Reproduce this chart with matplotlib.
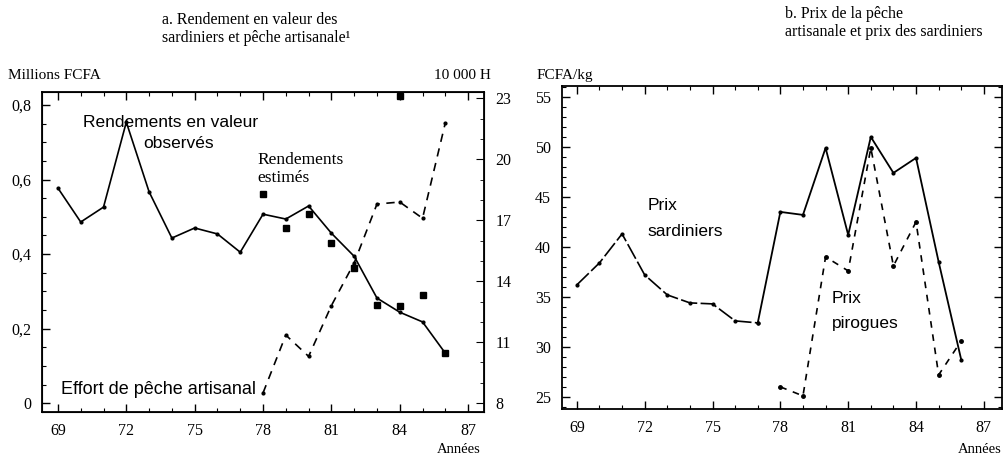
import matplotlib
matplotlib.use("Agg")
import matplotlib.pyplot as plt
from matplotlib.ticker import MultipleLocator

# --- data ---
years_obs = [69, 70, 71, 72, 73, 74, 75, 76, 77, 78, 79, 80, 81, 82, 83, 84, 85, 86]
rend_obs = [0.577, 0.486, 0.526, 0.754, 0.567, 0.443, 0.470, 0.454, 0.405,
            0.507, 0.494, 0.529, 0.456, 0.394, 0.282, 0.244, 0.218, 0.134]

years_est = [78, 79, 80, 81, 82, 83, 84, 85, 86]
rend_est = [0.561, 0.470, 0.507, 0.430, 0.362, 0.263, 0.260, 0.290, 0.134]

years_eff = [78, 79, 80, 81, 82, 83, 84, 85, 86]
effort = [8.5, 11.35, 10.3, 12.8, 14.9, 17.8, 17.9, 17.1, 21.8]
effort_extra_year = [84]
effort_extra = [23.1]

years_sard = [69, 70, 71, 72, 73, 74, 75, 76, 77, 78, 79, 80, 81, 82, 83, 84, 85, 86]
prix_sard = [36.2, 38.4, 41.3, 37.2, 35.2, 34.4, 34.3, 32.6, 32.4,
             43.5, 43.2, 49.9, 41.2, 51.0, 47.4, 48.9, 38.5, 28.7]

years_pir = [78, 79, 80, 81, 82, 83, 84, 85, 86]
prix_pir = [26.0, 25.1, 39.0, 37.6, 49.9, 38.1, 42.5, 27.2, 30.6]

xticks = [69, 72, 75, 78, 81, 84, 87]
left_yticks = [0, 0.2, 0.4, 0.6, 0.8]
left_ylabels = ['0', '0,2', '0,4', '0,6', '0,8']
right_yticks = [8, 11, 14, 17, 20, 23]
price_yticks = [25, 30, 35, 40, 45, 50, 55]

serif = 'Liberation Serif'
sans = 'Liberation Sans'

fig = plt.figure(figsize=(10.07, 4.62), dpi=100)

def style_axis(ax):
    ax.tick_params(direction='in', which='both', top=True, labelsize=11.5, pad=8)
    ax.tick_params(which='major', length=6, width=1)
    ax.tick_params(which='minor', length=3, width=0.8)
    for s in ax.spines.values():
        s.set_linewidth(1.3)
    for lab in ax.get_xticklabels() + ax.get_yticklabels():
        lab.set_family(serif)

# ---- panel a ----
ax1 = fig.add_axes([0.0417, 0.108, 0.439, 0.693])
ax1.plot(years_obs, rend_obs, color='black', lw=1.2, marker='.', ms=4)
ax1.plot(years_est, rend_est, ls='none', marker='s', ms=4.5, color='black')
ax1.set_xlim(68.3, 87.7)
ax1.set_ylim(-0.024, 0.835)
ax1.set_xticks(xticks)
ax1.xaxis.set_minor_locator(MultipleLocator(1))
ax1.set_yticks(left_yticks)
ax1.set_yticklabels(left_ylabels)
ax1.yaxis.set_minor_locator(MultipleLocator(0.05))
style_axis(ax1)
ax1.tick_params(axis='y', which='both', right=False)

ax2 = ax1.twinx()
ax2.plot(years_eff, effort, color='black', lw=1.2, ls=(0, (5, 4)), marker='.', ms=4)
ax2.plot(effort_extra_year, effort_extra, ls='none', marker='s', ms=4, color='black')
ax2.set_ylim(8 - 9 / 20.3, 8 + 311 / 20.3)
ax2.set_yticks(right_yticks)
ax2.yaxis.set_minor_locator(MultipleLocator(1))
ax2.tick_params(direction='in', which='both', labelsize=11.5, pad=8)
ax2.tick_params(which='major', length=6)
ax2.tick_params(which='minor', length=3)
for lab in ax2.get_yticklabels():
    lab.set_family(serif)

ax1.text(0.082, 0.725, 'Rendements en valeur', transform=fig.transFigure,
         family=sans, fontsize=12.5)
ax1.text(0.142, 0.68, 'observés', transform=fig.transFigure, family=sans, fontsize=12.5)
ax1.text(0.256, 0.645, 'Rendements', transform=fig.transFigure, family=serif, fontsize=12.5)
ax1.text(0.256, 0.605, 'estimés', transform=fig.transFigure, family=serif, fontsize=12.5)
ax1.text(0.061, 0.148, 'Effort de pêche artisanal', transform=fig.transFigure,
         family=sans, fontsize=13)

fig.text(0.008, 0.83, 'Millions FCFA', family=serif, fontsize=11)
fig.text(0.487, 0.83, '10 000 H', family=serif, fontsize=11, ha='right')
fig.text(0.161, 0.975, 'a. Rendement en valeur des\nsardiniers et pêche artisanale\u00b9',
         family=serif, fontsize=11.5, linespacing=1.2, va='top')
fig.text(0.477, 0.02, 'Années', family=serif, fontsize=10.5, ha='right')

# ---- panel b ----
ax3 = fig.add_axes([0.558, 0.115, 0.437, 0.699])
ax3.plot(years_sard[:9], prix_sard[:9], color='black', lw=1.2, ls=(0, (10, 2)),
         marker='.', ms=4)
ax3.plot(years_sard[8:], prix_sard[8:], color='black', lw=1.3, marker='.', ms=4)
ax3.plot(years_pir, prix_pir, color='black', lw=1.2, ls=(0, (4, 4)), marker='.', ms=5)
ax3.set_xlim(68.34, 87.8)
ax3.set_ylim(23.8, 56.1)
ax3.set_xticks(xticks)
ax3.xaxis.set_minor_locator(MultipleLocator(1))
ax3.set_yticks(price_yticks)
ax3.yaxis.set_minor_locator(MultipleLocator(1))
style_axis(ax3)
ax3.tick_params(right=True, which='both')

fig.text(0.643, 0.545, 'Prix', family=sans, fontsize=12.5)
fig.text(0.643, 0.49, 'sardiniers', family=sans, fontsize=12.5)
fig.text(0.826, 0.345, 'Prix', family=sans, fontsize=12.5)
fig.text(0.826, 0.29, 'pirogues', family=sans, fontsize=12.5)

fig.text(0.533, 0.83, 'FCFA/kg', family=serif, fontsize=11)
fig.text(0.78, 0.987, 'b. Prix de la pêche\nartisanale et prix des sardiniers',
         family=serif, fontsize=11.5, linespacing=1.2, va='top')
fig.text(0.995, 0.02, 'Années', family=serif, fontsize=10.5, ha='right')

fig.savefig('out.png', dpi=100)
